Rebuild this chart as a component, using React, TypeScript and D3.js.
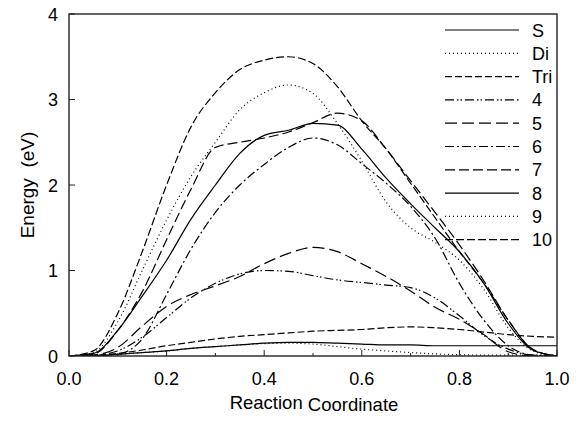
import React from "react";
import * as d3 from "d3";

const xs = [0, 0.05, 0.1, 0.15, 0.2, 0.25, 0.3, 0.35, 0.4, 0.45, 0.5, 0.55, 0.6, 0.65, 0.7, 0.75, 0.8, 0.85, 0.9, 0.95, 1.0];

const sS = [0, 0.005, 0.02, 0.04, 0.06, 0.09, 0.11, 0.13, 0.15, 0.16, 0.16, 0.15, 0.14, 0.13, 0.13, 0.12, 0.12, 0.12, 0.12, 0.12, 0.12];
const sDi = [0, 0.005, 0.02, 0.04, 0.06, 0.09, 0.11, 0.13, 0.145, 0.15, 0.14, 0.11, 0.08, 0.06, 0.04, 0.025, 0.015, 0.01, 0.01, 0.01, 0.01];
const sTri = [0, 0.005, 0.03, 0.07, 0.12, 0.16, 0.2, 0.23, 0.25, 0.27, 0.29, 0.3, 0.31, 0.33, 0.34, 0.33, 0.31, 0.28, 0.25, 0.23, 0.22];
const s4 = [0, 0.01, 0.06, 0.22, 0.45, 0.68, 0.85, 0.96, 1.0, 0.99, 0.94, 0.89, 0.86, 0.83, 0.8, 0.68, 0.47, 0.24, 0.08, 0.01, 0];
const s5 = [0, 0.01, 0.1, 0.35, 0.58, 0.72, 0.82, 0.93, 1.08, 1.2, 1.27, 1.22, 1.08, 0.93, 0.76, 0.57, 0.43, 0.25, 0.05, 0, 0];
const s6 = [0, 0, 0.02, 0.2, 0.72, 1.25, 1.68, 2.0, 2.24, 2.44, 2.55, 2.47, 2.25, 2.02, 1.75, 1.38, 0.85, 0.42, 0.12, 0.01, 0];
const s7 = [0, 0.02, 0.3, 0.75, 1.36, 1.95, 2.44, 2.5, 2.55, 2.62, 2.73, 2.84, 2.75, 2.42, 2.05, 1.68, 1.3, 0.88, 0.42, 0.08, 0];
const s8 = [0, 0.03, 0.3, 0.7, 1.12, 1.6, 2.0, 2.37, 2.58, 2.64, 2.72, 2.7, 2.42, 2.08, 1.78, 1.5, 1.22, 0.85, 0.38, 0.07, 0];
const s9 = [0, 0.04, 0.4, 1.0, 1.59, 2.1, 2.5, 2.88, 3.08, 3.17, 3.07, 2.72, 2.28, 1.8, 1.5, 1.33, 1.12, 0.78, 0.33, 0.06, 0];
const s10 = [0, 0.06, 0.5, 1.22, 2.0, 2.68, 3.08, 3.35, 3.46, 3.5, 3.42, 3.15, 2.75, 2.42, 2.02, 1.62, 1.22, 0.85, 0.42, 0.08, 0];

const seriesNames = ["S", "Di", "Tri", "4", "5", "6", "7", "8", "9", "10"];
const seriesValues = [sS, sDi, sTri, s4, s5, s6, s7, s8, s9, s10];
const dashes = ["none", "1,3", "7,3", "9,3,1.5,2,1.5,3", "12,5", "9,3,2,3", "10,4", "none", "1,3", "8,3"];

const xTicks = [0, 0.2, 0.4, 0.6, 0.8, 1.0];
const xMinor = [0.1, 0.3, 0.5, 0.7, 0.9];
const yTicks = [0, 1, 2, 3, 4];

export default function App() {
  const W = 585, H = 422;
  const left = 69, right = 557, top = 14, bottom = 356;
  const x = d3.scaleLinear().domain([0, 1]).range([left, right]);
  const y = d3.scaleLinear().domain([0, 4]).range([bottom, top]);
  const font = "'Liberation Sans', Arial, Helvetica, sans-serif";
  const line = d3
    .line<number>()
    .x((_, i) => x(xs[i]))
    .y((d) => y(d))
    .curve(d3.curveMonotoneX);

  return (
    <svg width={W} height={H} style={{ position: "absolute", left: 0, top: 0, background: "#fff" }}>
      <rect x={0} y={0} width={W} height={H} fill="#fff" />
      <defs>
        <clipPath id="plot">
          <rect x={left} y={top} width={right - left} height={bottom - top} />
        </clipPath>
      </defs>
      <g clipPath="url(#plot)">
        {seriesValues.map((vals, k) => (
          <path
            key={seriesNames[k]}
            d={line(vals) || ""}
            fill="none"
            stroke="#000"
            strokeWidth={1.2}
            strokeDasharray={dashes[k]}
          />
        ))}
      </g>
      <rect x={left} y={top} width={right - left} height={bottom - top} fill="none" stroke="#222" strokeWidth={1.4} />
      {xTicks.map((t) => (
        <g key={"xt" + t}>
          <line x1={x(t)} x2={x(t)} y1={bottom} y2={bottom - 6} stroke="#222" strokeWidth={1} />
          <text x={x(t)} y={385} textAnchor="middle" fontFamily={font} fontSize={18} fill="#000">
            {t.toFixed(1)}
          </text>
        </g>
      ))}
      {xMinor.map((t) => (
        <line key={"xm" + t} x1={x(t)} x2={x(t)} y1={bottom} y2={bottom - 3} stroke="#222" strokeWidth={1} />
      ))}
      {yTicks.map((t) => (
        <g key={"yt" + t}>
          <line x1={left} x2={left + 6} y1={y(t)} y2={y(t)} stroke="#222" strokeWidth={1} />
          <text x={58} y={y(t) + 6.5} textAnchor="end" fontFamily={font} fontSize={18} fill="#000">
            {t}
          </text>
        </g>
      ))}
      <text
        transform={`translate(34,${(top + bottom) / 2}) rotate(-90)`}
        textAnchor="middle"
        fontFamily={font}
        fontSize={19}
        fill="#000"
        style={{ whiteSpace: "pre" }}
      >
        {"Energy  (eV)"}
      </text>
      <text x={314} y={409} textAnchor="middle" fontFamily={font} fontSize={18.5} fill="#000" style={{ whiteSpace: "pre" }}>
        <tspan>{"Reaction "}</tspan>
        <tspan dy={2}>Coordinate</tspan>
      </text>
      {seriesNames.map((name, k) => {
        const ly = 30 + k * 23.3;
        return (
          <g key={"lg" + name}>
            <line x1={445} x2={519} y1={ly} y2={ly} stroke="#000" strokeWidth={1.2} strokeDasharray={dashes[k]} />
            <text x={532} y={ly + 6.5} fontFamily={font} fontSize={18} fill="#000">
              {name}
            </text>
          </g>
        );
      })}
    </svg>
  );
}
